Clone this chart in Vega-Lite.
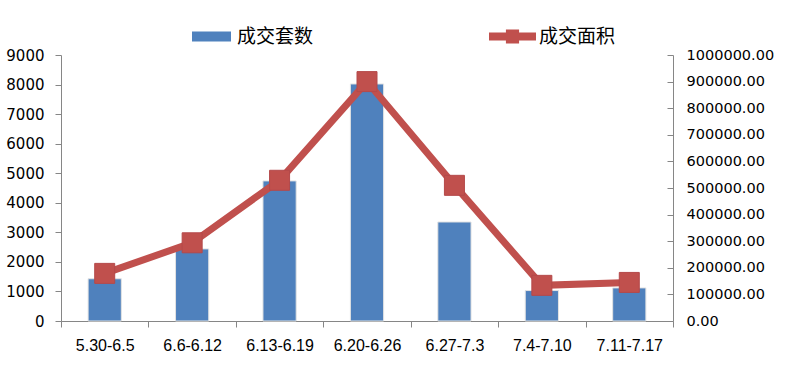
{
  "$schema": "https://vega.github.io/schema/vega-lite/v6.json",
  "width": 612,
  "height": 266,
  "autosize": {"type": "none"},
  "padding": {"left": 61, "top": 55, "right": 117, "bottom": 55},
  "background": "white",
  "config": {
    "view": {"stroke": null},
    "axis": {"domainColor": "#868686", "tickColor": "#868686", "labelColor": "#000000", "grid": false, "title": null, "labelOverlap": false}
  },
  "data": {
    "values": [
      {"period": "5.30-6.5", "count": 1430, "area": 179000},
      {"period": "6.6-6.12", "count": 2440, "area": 294000},
      {"period": "6.13-6.19", "count": 4740, "area": 529000},
      {"period": "6.20-6.26", "count": 8020, "area": 900000},
      {"period": "6.27-7.3", "count": 3350, "area": 510000},
      {"period": "7.4-7.10", "count": 1030, "area": 134000},
      {"period": "7.11-7.17", "count": 1120, "area": 145000}
    ]
  },
  "encoding": {
    "x": {
      "field": "period",
      "type": "nominal",
      "sort": null,
      "scale": {"paddingInner": 0, "paddingOuter": 0},
      "axis": {"labelAngle": 0, "labelFont": "Liberation Sans", "labelFontSize": 16, "labelPadding": 10, "tickSize": 6, "tickBand": "extent", "domainWidth": 1}
    }
  },
  "layer": [
    {
      "mark": {"type": "bar", "width": {"band": 0.38}, "stroke": "#e3e3e3", "strokeWidth": 1},
      "encoding": {
        "y": {
          "field": "count",
          "type": "quantitative",
          "scale": {"domain": [0, 9000], "nice": false},
          "axis": {"values": [0, 1000, 2000, 3000, 4000, 5000, 6000, 7000, 8000, 9000], "labelFont": "DejaVu Sans", "labelFontSize": 15, "labelPadding": 11, "tickSize": 6, "format": "d"}
        },
        "color": {
          "datum": "成交套数",
          "scale": {"range": ["#4F81BD"]},
          "legend": {"orient": "none", "legendX": 131, "legendY": -38, "title": null, "padding": 0, "symbolType": "M-1,-0.256H1V0.256H-1Z", "symbolSize": 1521, "symbolStrokeWidth": 0, "labelFont": "Noto Sans CJK SC", "labelFontSize": 19, "labelOffset": 6, "labelLimit": 200, "labelColor": "#000000"}
        }
      }
    },
    {
      "layer": [
        {
          "mark": {"type": "line", "color": "#C0504D", "strokeWidth": 7},
          "encoding": {
            "y": {
              "field": "area",
              "type": "quantitative",
              "scale": {"domain": [0, 1000000], "nice": false},
              "axis": {"orient": "right", "values": [0, 100000, 200000, 300000, 400000, 500000, 600000, 700000, 800000, 900000, 1000000], "format": ".2f", "labelFont": "DejaVu Sans", "labelFontSize": 14.5, "labelPadding": 19, "tickSize": -6, "labelOverlap": false}
            }
          }
        },
        {
          "mark": {"type": "point", "shape": "square", "filled": true, "size": 400, "opacity": 1, "stroke": "#B4494A", "strokeWidth": 1},
          "encoding": {
            "y": {
              "field": "area",
              "type": "quantitative",
              "scale": {"domain": [0, 1000000], "nice": false},
              "axis": {"orient": "right", "values": [0, 100000, 200000, 300000, 400000, 500000, 600000, 700000, 800000, 900000, 1000000], "format": ".2f", "labelFont": "DejaVu Sans", "labelFontSize": 14.5, "labelPadding": 19, "tickSize": -6, "labelOverlap": false}
            },
            "color": {
              "datum": "成交面积",
              "scale": {"range": ["#C0504D"]},
              "legend": {"orient": "none", "legendX": 428, "legendY": -42, "title": null, "padding": 0, "symbolType": "M-1,-0.17H-0.28V-0.3H0.28V-0.17H1V0.17H0.28V0.3H-0.28V0.17H-1Z", "symbolSize": 2209, "symbolStrokeWidth": 0, "symbolOpacity": 1, "labelFont": "Noto Sans CJK SC", "labelFontSize": 19, "labelOffset": 3, "labelLimit": 200, "labelColor": "#000000"}
            }
          }
        }
      ]
    }
  ],
  "resolve": {"scale": {"y": "independent", "color": "independent"}, "legend": {"color": "independent"}}
}
